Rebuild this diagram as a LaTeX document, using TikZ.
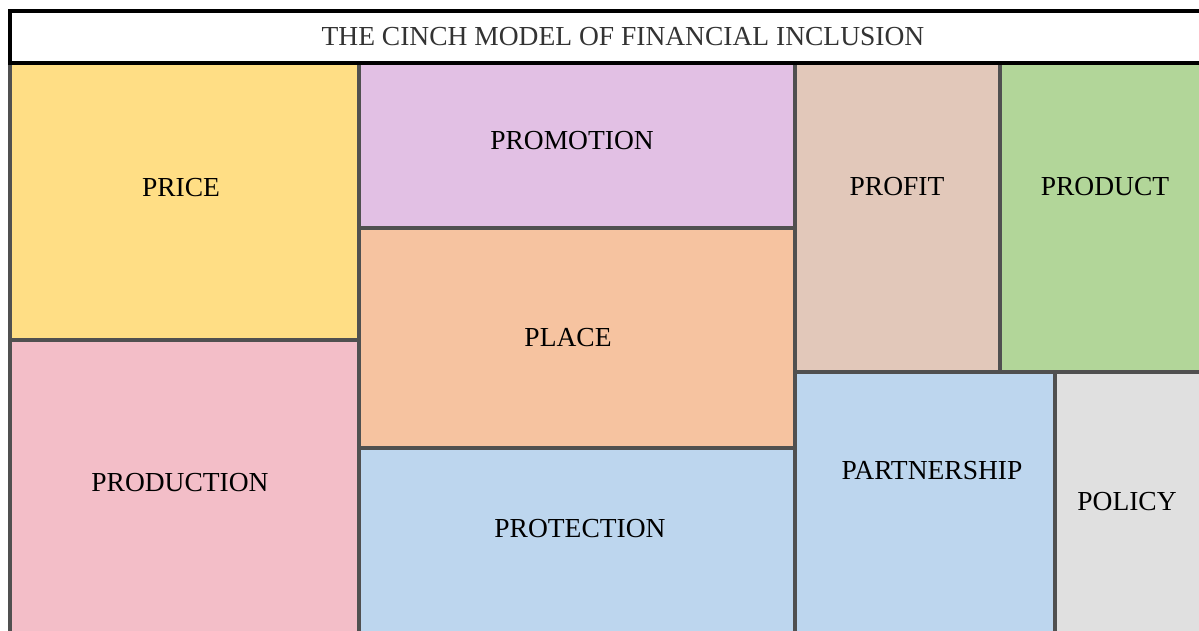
\documentclass[tikz,border=0pt]{standalone}
\usepackage{fontspec}
\setmainfont{Liberation Serif}
\usepackage{xcolor}
\usetikzlibrary{positioning}
\definecolor{cinchedge}{RGB}{80, 80, 80}
\definecolor{cinchtitle}{RGB}{51, 51, 51}
\definecolor{cinchprice}{RGB}{255, 222, 133}
\definecolor{cinchpromo}{RGB}{226, 192, 228}
\definecolor{cinchprofit}{RGB}{226, 200, 186}
\definecolor{cinchproduct}{RGB}{178, 214, 153}
\definecolor{cinchproduction}{RGB}{243, 190, 200}
\definecolor{cinchplace}{RGB}{246, 195, 160}
\definecolor{cinchprotect}{RGB}{189, 214, 238}
\definecolor{cinchpolicy}{RGB}{224, 224, 224}

\begin{document}
\begin{tikzpicture}[x=1pt, y=-1pt,
    cell/.style={draw=cinchedge, line width=3.2pt, fill=#1, rectangle, anchor=north west, inner sep=0pt, outer sep=0pt},
    lbl/.style={font=\fontsize{27.5}{33}\selectfont, text=black, inner sep=0pt}]
        \useasboundingbox (0,0) rectangle (1199,631);
        \clip (0,0) rectangle (1199,631);

        % left column
        \node[cell=cinchprice, minimum width=349pt, minimum height=277pt] (price) at (10,63) {};
        \node[cell=cinchproduction, minimum width=349pt, minimum height=300pt] (production) at (10,340) {};

        % middle column
        \node[cell=cinchpromo, minimum width=436pt, minimum height=165pt] (promotion) at (359,63) {};
        \node[cell=cinchplace, minimum width=436pt, minimum height=220pt] (place) at (359,228) {};
        \node[cell=cinchprotect, minimum width=436pt, minimum height=200pt] (protection) at (359,448) {};

        % right column
        \node[cell=cinchprofit, minimum width=205pt, minimum height=309pt] (profit) at (795,63) {};
        \node[cell=cinchproduct, minimum width=220pt, minimum height=309pt] (product) at (1000,63) {};
        \node[cell=cinchprotect, minimum width=260pt, minimum height=280pt] (partnership) at (795,372) {};
        \node[cell=cinchpolicy, minimum width=160pt, minimum height=280pt] (policy) at (1055,372) {};

        % title bar
        \node[draw=black, line width=3.6pt, fill=white, rectangle, anchor=north west, inner sep=0pt, outer sep=0pt, minimum width=1210pt, minimum height=52pt] (title) at (10,11) {};
        \node[font=\fontsize{27.5}{33}\selectfont, text=cinchtitle, inner sep=0pt] (titletxt) at (623,37) {THE CINCH MODEL OF FINANCIAL INCLUSION};

        % labels
        \node[lbl] (pricetxt) at (181,188) {PRICE};
        \node[lbl] (productiontxt) at (180,483) {PRODUCTION};
        \node[lbl] (promotiontxt) at (572,141) {PROMOTION};
        \node[lbl] (placetxt) at (568,338) {PLACE};
        \node[lbl] (protectiontxt) at (580,529) {PROTECTION};
        \node[lbl] (profittxt) at (897,187) {PROFIT};
        \node[lbl] (producttxt) at (1105,187) {PRODUCT};
        \node[lbl] (partnershiptxt) at (932,471) {PARTNERSHIP};
        \node[lbl] (policytxt) at (1127,502) {POLICY};
    \end{tikzpicture}
\end{document}
